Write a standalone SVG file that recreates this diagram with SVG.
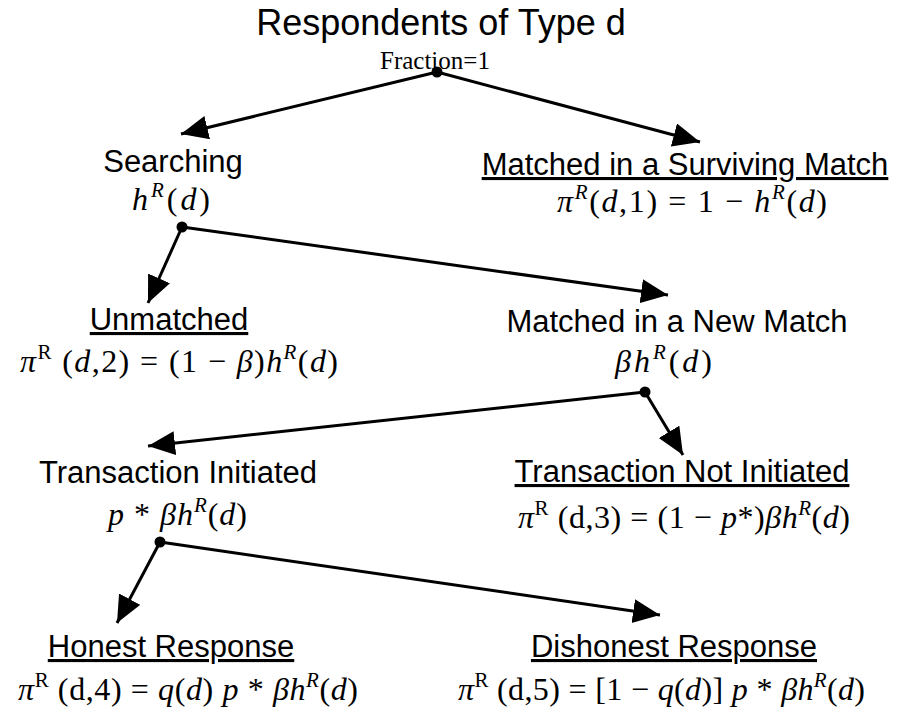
<svg xmlns="http://www.w3.org/2000/svg" width="901" height="713" viewBox="0 0 901 713">
<style>
.lbl{font-family:"Liberation Sans",Arial,sans-serif;font-size:31px;fill:#000;text-anchor:middle}
.u{text-decoration:underline}
.m{font-family:"Liberation Serif","Times New Roman",serif;font-size:32px;fill:#000}
.i{font-style:italic}
.s{font-size:21px}
.ln{stroke:#000;stroke-width:3;fill:none}
</style>
<defs>
<marker id="ah" markerUnits="userSpaceOnUse" markerWidth="28" markerHeight="25" refX="27" refY="12" orient="auto">
<path d="M0,0 L27,12 L0,24 z" fill="#000"/>
</marker>
</defs>
<rect width="901" height="713" fill="#fff"/>

<g id="connectors">
<line class="ln" x1="437" y1="72" x2="181" y2="134" marker-end="url(#ah)"/>
<line class="ln" x1="437" y1="72" x2="700" y2="142" marker-end="url(#ah)"/>
<line class="ln" x1="182" y1="227" x2="148" y2="303" marker-end="url(#ah)"/>
<line class="ln" x1="182" y1="227" x2="668" y2="295" marker-end="url(#ah)"/>
<line class="ln" x1="645" y1="392" x2="148" y2="446" marker-end="url(#ah)"/>
<line class="ln" x1="645" y1="392" x2="683" y2="455" marker-end="url(#ah)"/>
<line class="ln" x1="160" y1="542" x2="117" y2="623" marker-end="url(#ah)"/>
<line class="ln" x1="160" y1="542" x2="660" y2="615" marker-end="url(#ah)"/>
<circle cx="437" cy="72" r="5.5"/>
<circle cx="182" cy="227" r="5.5"/>
<circle cx="645" cy="392" r="5.5"/>
<circle cx="160" cy="542" r="5.5"/>
</g>

<g id="root">
<text x="441" y="35" font-family="Liberation Sans, Arial, sans-serif" font-size="36" text-anchor="middle">Respondents of Type d</text>
<text x="380" y="69" font-family="Liberation Serif, Times New Roman, serif" font-size="25">Fraction=1</text>
</g>

<g id="searching">
<text class="lbl" x="173" y="172">Searching</text>
<text class="m" x="132" y="210" textLength="78" lengthAdjust="spacing"><tspan class="i">h</tspan><tspan class="s i" dy="-13">R</tspan><tspan dy="13">(</tspan><tspan class="i">d</tspan>)</text>
</g>

<g id="surviving">
<text class="lbl u" x="685" y="175">Matched in a Surviving Match</text>
<text class="m" x="557" y="212" textLength="270" lengthAdjust="spacing"><tspan class="i">π</tspan><tspan class="s i" dy="-13">R</tspan><tspan dy="13">(</tspan><tspan class="i">d</tspan>,1) = 1 − <tspan class="i">h</tspan><tspan class="s i" dy="-13">R</tspan><tspan dy="13">(</tspan><tspan class="i">d</tspan>)</text>
</g>

<g id="unmatched">
<text class="lbl u" x="169" y="330">Unmatched</text>
<text class="m" x="20" y="372" textLength="318" lengthAdjust="spacing"><tspan class="i">π</tspan><tspan class="s" dy="-13">R</tspan><tspan dy="13"> (</tspan><tspan class="i">d</tspan>,2) = (1 − <tspan class="i">β</tspan>)<tspan class="i">h</tspan><tspan class="s i" dy="-13">R</tspan><tspan dy="13">(</tspan><tspan class="i">d</tspan>)</text>
</g>

<g id="newmatch">
<text class="lbl" x="677" y="332">Matched in a New Match</text>
<text class="m" x="615" y="372" textLength="97" lengthAdjust="spacing"><tspan class="i">βh</tspan><tspan class="s i" dy="-13">R</tspan><tspan dy="13">(</tspan><tspan class="i">d</tspan>)</text>
</g>

<g id="initiated">
<text class="lbl" x="178" y="483">Transaction Initiated</text>
<text class="m" x="108" y="525" textLength="139" lengthAdjust="spacing"><tspan class="i">p</tspan> * <tspan class="i">βh</tspan><tspan class="s i" dy="-13">R</tspan><tspan dy="13">(</tspan><tspan class="i">d</tspan>)</text>
</g>

<g id="notinitiated">
<text class="lbl u" x="682" y="482">Transaction Not Initiated</text>
<text class="m" x="518" y="528" textLength="332" lengthAdjust="spacing"><tspan class="i">π</tspan><tspan class="s" dy="-13">R</tspan><tspan dy="13"> (d,3) = (1 − </tspan><tspan class="i">p</tspan>*)<tspan class="i">βh</tspan><tspan class="s i" dy="-13">R</tspan><tspan dy="13">(</tspan><tspan class="i">d</tspan>)</text>
</g>

<g id="honest">
<text class="lbl u" x="171" y="657">Honest Response</text>
<text class="m" x="18" y="700" textLength="340" lengthAdjust="spacing"><tspan class="i">π</tspan><tspan class="s" dy="-13">R</tspan><tspan dy="13"> (d,4) = </tspan><tspan class="i">q</tspan>(<tspan class="i">d</tspan>) <tspan class="i">p</tspan> * <tspan class="i">βh</tspan><tspan class="s i" dy="-13">R</tspan><tspan dy="13">(</tspan><tspan class="i">d</tspan>)</text>
</g>

<g id="dishonest">
<text class="lbl u" x="674" y="657">Dishonest Response</text>
<text class="m" x="458" y="700" textLength="407" lengthAdjust="spacing"><tspan class="i">π</tspan><tspan class="s" dy="-13">R</tspan><tspan dy="13"> (d,5) = [1 − </tspan><tspan class="i">q</tspan>(<tspan class="i">d</tspan>)] <tspan class="i">p</tspan> * <tspan class="i">βh</tspan><tspan class="s i" dy="-13">R</tspan><tspan dy="13">(</tspan><tspan class="i">d</tspan>)</text>
</g>
</svg>
